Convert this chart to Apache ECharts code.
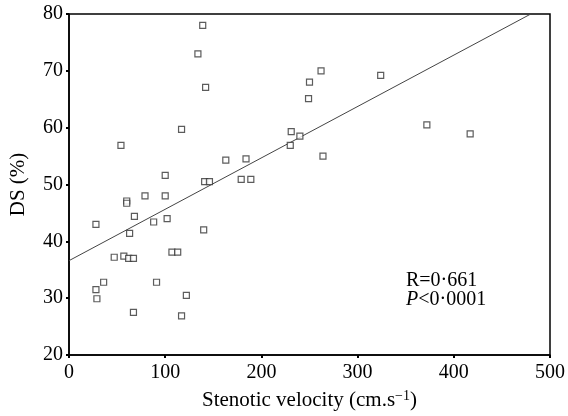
<!DOCTYPE html>
<html><head><meta charset="utf-8">
<script src="https://cdn.jsdelivr.net/npm/echarts@6/dist/echarts.min.js"></script>
<style>html,body{margin:0;padding:0;background:#fff}#c{width:568px;height:416px}</style>
</head><body><div id="c"></div>
<script>
const velocity = [139,134,142,54,117,100,163,184,141,146,179,189,230,231,240,262,250,249,324,372,417,264,79,100,60,60,68,28,88,102,63,140,107,113,47,57,62,67,36,91,28,29,122,67,117];
const ds = [78.0,73.0,67.1,56.9,59.7,51.6,54.3,54.5,50.5,50.5,50.9,50.9,56.9,59.3,58.5,70.0,68.0,65.1,69.2,60.5,58.9,55.0,48.0,48.0,47.1,46.7,44.4,43.0,43.4,44.0,41.4,42.0,38.1,38.1,37.2,37.4,37.0,37.0,32.8,32.8,31.5,29.9,30.5,27.5,26.9];
const fitX = [0, 480];
const fitY = [36.6, 80];
const xTicks = [0,100,200,300,400,500];
const yTicks = [20,30,40,50,60,70,80];
const statR = 'R=0·661';
const statP = 'P';
const statP2 = '<0·0001';

const font = 'Liberation Serif';
const chart = echarts.init(document.getElementById('c'));
chart.setOption({
  animation: false,
  backgroundColor: '#fff',
  grid: {left: 69, top: 14, right: 15, bottom: 59, show: true, borderColor: '#000', borderWidth: 1.5, backgroundColor: 'transparent'},
  xAxis: {
    type: 'value', min: xTicks[0], max: xTicks[xTicks.length-1], interval: 100,
    name: 'Stenotic velocity (cm.s{sup|−1})', nameLocation: 'middle', nameGap: 34,
    nameTextStyle: {fontFamily: font, fontSize: 21, color: '#000',
      rich: {sup: {fontFamily: font, fontSize: 14, color: '#000', padding: [0, 0, 9, 0]}}},
    axisLine: {lineStyle: {color: '#000', width: 1.5}},
    axisTick: {show: true, length: 3, lineStyle: {color: '#000', width: 2}},
    axisLabel: {fontFamily: font, fontSize: 20, color: '#000', margin: 8},
    splitLine: {show: false}
  },
  yAxis: {
    type: 'value', min: yTicks[0], max: yTicks[yTicks.length-1], interval: 10,
    name: 'DS (%)', nameLocation: 'middle', nameGap: 40, nameRotate: 90,
    nameTextStyle: {fontFamily: font, fontSize: 21, color: '#000'},
    axisLine: {lineStyle: {color: '#000', width: 1.5}},
    axisTick: {show: true, length: 3, lineStyle: {color: '#000', width: 2}},
    axisLabel: {fontFamily: font, fontSize: 20, color: '#000', margin: 6},
    splitLine: {show: false}
  },
  series: [
    {
      type: 'line', data: fitX.map((x,i)=>[x, fitY[i]]), symbol: 'none',
      lineStyle: {color: '#444', width: 1}, z: 1, silent: true
    },
    {
      type: 'scatter', data: velocity.map((x,i)=>[x, ds[i]]), symbol: 'rect', symbolSize: 6,
      itemStyle: {color: '#fff', borderColor: '#333', borderWidth: 1.2}, z: 2
    }
  ],
  graphic: [
    {type: 'text', left: 406, top: 271, style: {text: statR, font: '20px "Liberation Serif"', fill: '#000'}},
    {type: 'text', left: 406, top: 290, style: {
      text: '{i|' + statP + '}' + statP2,
      rich: {i: {fontStyle: 'italic', fontFamily: font, fontSize: 20}},
      font: '20px "Liberation Serif"', fill: '#000'}}
  ]
});
</script></body></html>
